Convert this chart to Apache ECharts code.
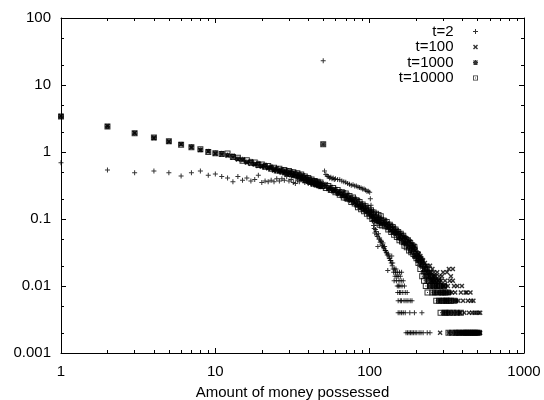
<!DOCTYPE html>
<html><head><meta charset="utf-8">
<script src="https://cdn.jsdelivr.net/npm/echarts@6/dist/echarts.min.js"></script>
<style>html,body{margin:0;padding:0;background:#fff}#c{width:544px;height:400px}</style>
</head><body><div id="c"></div>
<script>
const seriesNames = ['t=2', 't=100', 't=1000', 't=10000'];
const xAxisTitle = 'Amount of money possessed';
const xTicks = [1, 10, 100, 1000];
const xTickLabels = ['1', '10', '100', '1000'];
const yTicks = [0.001, 0.01, 0.1, 1, 10, 100];
const yTickLabels = ['0.001', '0.01', '0.1', '1', '10', '100'];
const xMinorTicks = [2,3,4,5,6,7,8,9,20,30,40,50,60,70,80,90,200,300,400,500,600,700,800,900];
const yMinorTicks = [0.002,0.005,0.02,0.05,0.2,0.5,2,5,20,50];

// money values shared by the three late-time series (body of distribution)
const moneyBody = [1,2,3,4,5,6,7,8,9,10,11,12,13,14,15,16,17,18,19,20,21,22,23,24,25,26,27,28,29,30,
  31,32,33,34,35,36,37,38,39,40,41,42,43,44,45,46,47,48,49,50,
  52,54,56,58,60,62,64,66,68,70,72,74,76,78,80,82,84,86,88,90,92,94,96,98,100,102,104,106,108,110,112,114,116,118,120,
  123,126,129,132,135,138,141,144,147,150,153,156,159,162,165,168,171,174,177,180,183,186,189,192,195,198];

const t100Body = [3.45,2.45,1.92,1.62,1.42,1.3,1.17,1.07,1.02,0.94,
  0.92,0.88,0.83,0.77,0.75,0.7,0.67,0.65,0.62,0.61,
  0.59,0.57,0.56,0.53,0.52,0.51,0.5,0.48,0.47,0.47,
  0.45,0.44,0.44,0.42,0.42,0.4,0.4,0.38,0.37,0.37,
  0.35,0.35,0.34,0.33,0.32,0.32,0.31,0.3,0.3,0.31,
  0.3,0.29,0.27,0.27,0.26,0.25,0.24,0.235,0.22,0.22,0.2,0.2,0.19,0.19,0.175,0.17,0.16,0.16,0.15,0.15,
  0.14,0.14,0.13,0.13,0.12,0.12,0.11,0.11,0.1,0.1,0.095,0.095,0.09,0.09,0.086,
  0.09,0.08,0.085,0.074,0.08,0.068,0.072,0.064,0.066,0.06,0.062,0.054,0.058,0.05,0.054,0.046,0.052,0.044,0.048,0.04,
  0.046,0.038,0.042,0.036,0.04,0.034];

const t1000Body = [3.4,2.4,1.9,1.65,1.45,1.3,1.2,1.08,1.03,0.97,
  0.96,0.9,0.88,0.79,0.78,0.71,0.73,0.66,0.68,0.62,
  0.64,0.58,0.6,0.55,0.57,0.52,0.55,0.5,0.53,0.48,
  0.51,0.46,0.49,0.44,0.47,0.42,0.45,0.4,0.42,0.37,
  0.4,0.35,0.38,0.34,0.37,0.32,0.35,0.31,0.34,1.3,
  0.33,0.28,0.3,0.26,0.28,0.24,0.26,0.22,0.25,0.2,0.23,0.19,0.21,0.18,0.2,0.16,0.19,0.15,0.17,0.14,
  0.16,0.13,0.15,0.12,0.135,0.11,0.13,0.1,0.12,0.095,0.11,0.09,0.105,0.085,0.1,
  0.085,0.095,0.075,0.086,0.07,0.08,0.064,0.074,0.06,0.068,0.052,0.062,0.05,0.058,0.044,0.054,0.042,0.05,0.038,0.046,
  0.034,0.042,0.032,0.038,0.028,0.036];

const t10000Body = [3.4,2.4,1.9,1.65,1.45,1.28,1.18,1.1,1.0,0.96,
  0.93,0.95,0.84,0.82,0.74,0.75,0.69,0.7,0.64,0.65,
  0.6,0.62,0.56,0.58,0.53,0.56,0.51,0.54,0.49,0.52,
  0.47,0.5,0.45,0.48,0.43,0.46,0.41,0.43,0.38,0.41,
  0.36,0.39,0.34,0.37,0.33,0.36,0.32,0.35,0.31,1.3,
  0.29,0.31,0.27,0.29,0.25,0.27,0.23,0.25,0.21,0.24,0.2,0.22,0.18,0.21,0.17,0.19,0.15,0.18,0.14,0.165,
  0.13,0.155,0.12,0.145,0.11,0.135,0.1,0.125,0.095,0.12,0.088,0.115,0.082,0.11,0.08,
  0.095,0.078,0.09,0.07,0.082,0.064,0.076,0.058,0.07,0.054,0.064,0.048,0.06,0.046,0.056,0.04,0.05,0.038,0.048,0.034,
  0.044,0.032,0.04,0.03,0.038,0.028];

// tails (quantised counts)
const t100TailX = [201,204,207,210,213,216,219,222,225,228,231,234,237,240,243,246,249,252,255,258,261,264,267,270,274,278,282,286,290,294,299,303,308,312,317,321,326,330,336,340,346,346,352,358,364,370,376,383,390,396,403,410,418,425,433,440,450,455,462,470,478,486,492,500,508,514,520,520];
const t100TailY = [0.032,0.026,0.030,0.024,0.028,0.026,0.022,0.024,0.018,0.022,0.020,0.016,0.020,0.018,0.014,0.020,0.016,0.012,0.018,0.014,0.016,0.012,0.014,0.010,0.016,0.012,0.014,0.002,0.012,0.014,0.016,0.010,0.012,0.008,0.016,0.010,0.018,0.012,0.014,0.008,0.012,0.018,0.010,0.008,0.006,0.010,0.006,0.004,0.008,0.010,0.006,0.004,0.008,0.008,0.006,0.004,0.008,0.006,0.004,0.006,0.004,0.002,0.004,0.002,0.004,0.002,0.004,0.002];

const t1000TailX = [201,204,207,210,213,216,219,222,225,228,231,234,237,240,243,246,249,252,255,258,261,264,267,270,273,276,279,282,285,288,291,294,297,300,303,306,309,312,315,318,321,324,327,330,336,342,348,354,360,366,372,378,384,390,396,402,410,418,426,434,442,450,460,470,480,492,504,516];
const t1000TailY = [0.028,0.024,0.030,0.022,0.026,0.020,0.024,0.016,0.020,0.014,0.018,0.012,0.016,0.014,0.010,0.016,0.012,0.014,0.010,0.012,0.008,0.014,0.010,0.012,0.008,0.010,0.006,0.012,0.008,0.010,0.006,0.008,0.010,0.004,0.008,0.006,0.010,0.004,0.006,0.008,0.004,0.006,0.002,0.008,0.004,0.006,0.002,0.004,0.006,0.002,0.004,0.002,0.004,0.002,0.002,0.002,0.002,0.002,0.002,0.002,0.002,0.002,0.002,0.002,0.002,0.002,0.002,0.002];

const t10000TailX = [201,204,207,210,213,216,219,222,225,228,231,234,237,240,243,246,249,252,255,258,261,264,267,270,273,276,279,282,285,288,291,294,297,300,303,306,309,312,315,318,321,324,327,330,336,342,348,354,360,366,372,380,390,400,410,420,432,444,456,468,480,494,508];
const t10000TailY = [0.026,0.030,0.022,0.026,0.018,0.024,0.014,0.020,0.012,0.018,0.010,0.016,0.008,0.014,0.012,0.010,0.014,0.012,0.008,0.012,0.010,0.008,0.012,0.006,0.010,0.008,0.012,0.006,0.010,0.004,0.008,0.006,0.008,0.006,0.010,0.004,0.008,0.006,0.004,0.006,0.008,0.002,0.006,0.004,0.006,0.002,0.004,0.006,0.002,0.004,0.002,0.002,0.004,0.002,0.002,0.002,0.002,0.002,0.002,0.002,0.002,0.002,0.002];

// t=2 : early distribution
const t2X = [1,2,3,4,5,6,7,8,9,10,11,12,13,14,15,16,17,18,19,20,21,22,23,24,25,26,27,28,29,30,
  31,32,33,34,35,36,37,38,39,40,41,42,43,44,45,46,47,48,49,50,
  51,52,53,54,55,56,57,58,59,60,62,64,66,68,70,72,74,76,78,80,82,84,86,88,90,92,94,96,98,100,
  101,102,103,104,105,106,107,108,109,110,111,112,113,114,115,116,117,118,119,120,
  121,122,123,124,125,126,127,128,129,130,131,132,133,134,135,136,137,138,139,140,141];
const t2Y = [0.69,0.54,0.49,0.52,0.49,0.44,0.49,0.52,0.45,0.47,0.43,0.41,0.36,0.43,0.38,0.41,0.37,0.39,0.45,0.35,
  0.37,0.36,0.38,0.36,0.4,0.37,0.4,0.38,0.43,0.37,0.39,0.35,0.34,0.38,0.36,0.4,0.37,0.35,0.39,0.34,
  0.37,0.33,0.36,0.34,0.37,0.33,0.35,0.32,0.34,23,
  0.52,0.46,0.44,0.43,0.41,0.42,0.4,0.41,0.39,0.4,0.39,0.385,0.37,0.36,0.355,0.34,0.33,0.32,0.325,0.31,
  0.31,0.3,0.295,0.29,0.28,0.28,0.27,0.26,0.26,0.25,
  0.2,0.16,0.13,0.11,0.095,0.08,0.072,0.062,0.07,0.065,0.058,0.055,0.039,0.06,0.05,0.052,0.045,0.048,0.046,0.041,
  0.04,0.044,0.038,0.036,0.039,0.034,0.034,0.032,0.031,0.029,0.017,0.03,0.028,0.026,0.026,0.024,0.024,0.022,0.028,0.02,0.022];
const t2TailX = [142,145,148, 143,147,151,156,161, 146,150,153,158, 144,149,155,160,165, 151,154,157,162,168,
  152,156,159,164,170,175, 153,158,161,167,172,177,183,188, 153,157,161,165,170,182,195,218,
  172,176,180,184,188,192,197,202,209,215,222,236,246];
const t2TailY = [0.018,0.018,0.018, 0.016,0.016,0.016,0.016,0.016, 0.014,0.014,0.014,0.014, 0.012,0.012,0.012,0.012,0.012, 0.010,0.010,0.010,0.010,0.010,
  0.008,0.008,0.008,0.008,0.008,0.008, 0.006,0.006,0.006,0.006,0.006,0.006,0.006,0.006, 0.004,0.004,0.004,0.004,0.004,0.004,0.004,0.004,
  0.002,0.002,0.002,0.002,0.002,0.002,0.002,0.002,0.002,0.002,0.002,0.002,0.002];

function zip(xs, ys) { return xs.map((x, i) => [x, ys[i]]); }

const SYM_PLUS = 'path://M2,0h1v2h2v1h-2v2h-1v-2h-2v-1h2z';
const SYM_CROSS = 'path://M0,1L1,0L2.5,1.5L4,0L5,1L3.5,2.5L5,4L4,5L2.5,3.5L1,5L0,4L1.5,2.5Z';
const SYM_STAR = 'path://M2,0h1v5h-1z M0,2h5v1h-5z M0,1L1,0L2.5,1.5L4,0L5,1L3.5,2.5L5,4L4,5L2.5,3.5L1,5L0,4L1.5,2.5Z';
const SYM_BOX = 'path://M0,0h6v6h-6z M1,1v4h4v-4z M2.5,2.5h1v1h-1z';

const FONT = "'Liberation Sans', Arial, Helvetica, sans-serif";
const GRID = { left: 61, right: 20, top: 18, bottom: 47, containLabel: false, outerBoundsMode: 'none' };

function fmt(ticks, labels) {
  return function (v) {
    for (let i = 0; i < ticks.length; i++) if (Math.abs(ticks[i] - v) / ticks[i] < 1e-6) return labels[i];
    return '';
  };
}
const lineStyle = { color: '#000', width: 1 };
function logX(extra) {
  return Object.assign({ type: 'log', logBase: 10, min: 1, max: 1000, splitLine: { show: false } }, extra);
}
function logY(extra) {
  return Object.assign({ type: 'log', logBase: 10, min: 0.001, max: 100, splitLine: { show: false } }, extra);
}

const chart = echarts.init(document.getElementById('c'), null, { renderer: 'canvas' });
chart.setOption({
  animation: false,
  backgroundColor: '#fff',
  textStyle: { fontFamily: FONT },
  grid: [Object.assign({}, GRID), Object.assign({}, GRID)],
  xAxis: [
    logX({ gridIndex: 0, position: 'bottom', name: xAxisTitle, nameLocation: 'middle', nameGap: 32,
      nameTextStyle: { color: '#000', fontSize: 15, fontFamily: FONT },
      axisLine: { show: true, lineStyle },
      axisTick: { show: true, inside: true, length: 5, lineStyle, customValues: xTicks },
      axisLabel: { show: true, color: '#000', fontSize: 15, fontFamily: FONT, margin: 11, customValues: xTicks, formatter: fmt(xTicks, xTickLabels) } }),
    logX({ gridIndex: 0, position: 'top',
      axisLine: { show: true, lineStyle },
      axisTick: { show: true, inside: true, length: 5, lineStyle, customValues: xTicks },
      axisLabel: { show: false } }),
    logX({ gridIndex: 1, position: 'bottom',
      axisLine: { show: false },
      axisTick: { show: true, inside: true, length: 3, lineStyle, customValues: xMinorTicks },
      axisLabel: { show: false } }),
    logX({ gridIndex: 1, position: 'top',
      axisLine: { show: false },
      axisTick: { show: true, inside: true, length: 3, lineStyle, customValues: xMinorTicks },
      axisLabel: { show: false } })
  ],
  yAxis: [
    logY({ gridIndex: 0, position: 'left',
      axisLine: { show: true, lineStyle },
      axisTick: { show: true, inside: true, length: 5, lineStyle, customValues: yTicks },
      axisLabel: { show: true, color: '#000', fontSize: 15, fontFamily: FONT, margin: 10, customValues: yTicks, formatter: fmt(yTicks, yTickLabels) } }),
    logY({ gridIndex: 0, position: 'right',
      axisLine: { show: true, lineStyle },
      axisTick: { show: true, inside: true, length: 5, lineStyle, customValues: yTicks },
      axisLabel: { show: false } }),
    logY({ gridIndex: 1, position: 'left',
      axisLine: { show: false },
      axisTick: { show: true, inside: true, length: 3, lineStyle, customValues: yMinorTicks },
      axisLabel: { show: false } }),
    logY({ gridIndex: 1, position: 'right',
      axisLine: { show: false },
      axisTick: { show: true, inside: true, length: 3, lineStyle, customValues: yMinorTicks },
      axisLabel: { show: false } })
  ],
  legend: {
    orient: 'vertical', align: 'right', right: 66, top: 24, padding: 0,
    itemWidth: 34, itemHeight: 5, itemGap: 0.5,
    textStyle: { color: '#000', fontSize: 15, fontFamily: FONT, lineHeight: 15 },
    data: seriesNames
  },
  series: [
    { name: seriesNames[0], type: 'scatter', xAxisIndex: 0, yAxisIndex: 0, symbol: SYM_PLUS, symbolSize: 5,
      itemStyle: { color: '#000' }, data: zip(t2X, t2Y).concat(zip(t2TailX, t2TailY)) },
    { name: seriesNames[1], type: 'scatter', xAxisIndex: 0, yAxisIndex: 0, symbol: SYM_CROSS, symbolSize: 5,
      itemStyle: { color: '#000' }, data: zip(moneyBody, t100Body).concat(zip(t100TailX, t100TailY)) },
    { name: seriesNames[2], type: 'scatter', xAxisIndex: 0, yAxisIndex: 0, symbol: SYM_STAR, symbolSize: 5,
      itemStyle: { color: '#000' }, data: zip(moneyBody, t1000Body).concat(zip(t1000TailX, t1000TailY)) },
    { name: seriesNames[3], type: 'scatter', xAxisIndex: 0, yAxisIndex: 0, symbol: SYM_BOX, symbolSize: 6,
      itemStyle: { color: '#000' }, data: zip(moneyBody, t10000Body).concat(zip(t10000TailX, t10000TailY)) }
  ]
});
</script>
</body></html>
